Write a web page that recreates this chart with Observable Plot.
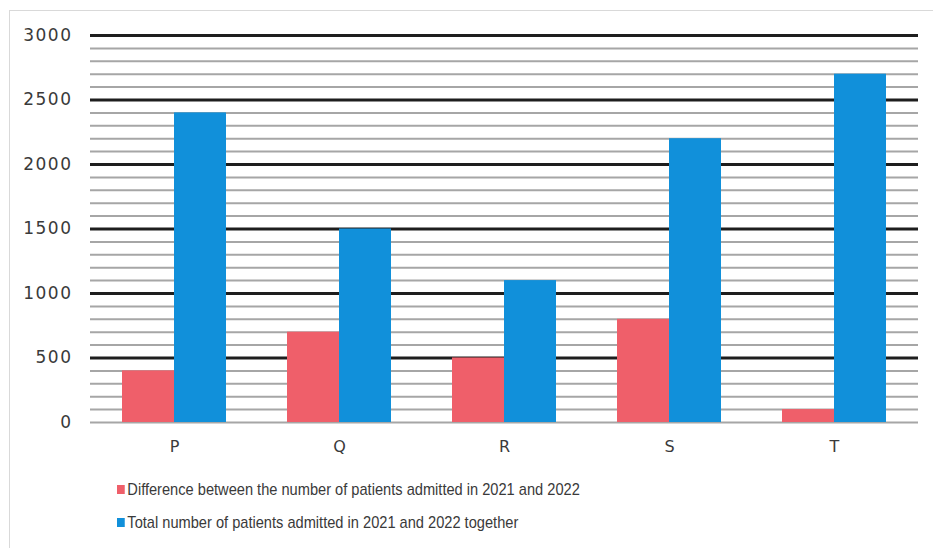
<!DOCTYPE html>
<html>
<head>
<meta charset="utf-8">
<script src="https://cdn.jsdelivr.net/npm/d3@7"></script>
<script src="https://cdn.jsdelivr.net/npm/@observablehq/plot@0.6"></script>
<style>
  body { margin: 0; background: #fff; }
  #wrap { position: relative; width: 933px; height: 548px; overflow: hidden; background: #fff; }
  #border { position: absolute; left: 9px; top: 10px; width: 940px; height: 560px; border: 1px solid #d9d9d9; }
  #chart { position: absolute; left: 0; top: 0; }
  .leg { position: absolute; left: 117px; font-family: "Liberation Sans", sans-serif; font-size: 17px; color: #3a3a3a; white-space: nowrap; transform: scaleX(0.86); transform-origin: left center; }
  .sw { display: inline-block; width: 9px; height: 9px; margin-right: 3px; vertical-align: 1px; }
</style>
</head>
<body>
<div id="wrap">
  <div id="border"></div>
  <div id="chart"></div>
  <div class="leg" id="leg1" style="top:480px"></div>
  <div class="leg" id="leg2" style="top:513px"></div>
</div>
<script>
const categories = ["P", "Q", "R", "S", "T"];
const difference = [400, 700, 500, 800, 100];
const total = [2400, 1500, 1100, 2200, 2700];
const seriesNames = [
  "Difference between the number of patients admitted in 2021 and 2022",
  "Total number of patients admitted in 2021 and 2022 together"
];
const colors = ["#ef5f6a", "#1190da"];
const yTicks = [0, 500, 1000, 1500, 2000, 2500, 3000];
const minorTicks = d3.range(0, 3001, 100).filter(v => v === 0 || v % 500 !== 0);
const majorTicks = yTicks.filter(v => v !== 0);

const diffData = categories.map((c, i) => ({category: c, value: difference[i]}));
const totalData = categories.map((c, i) => ({category: c, value: total[i]}));

const chart = Plot.plot({
  width: 933,
  height: 470,
  marginLeft: 90,
  marginRight: 15,
  marginTop: 35,
  marginBottom: 48,
  style: {fontFamily: "DejaVu Sans, sans-serif", fontSize: "16px", color: "#3a3a3a", background: "transparent"},
  x: {domain: categories, paddingInner: 0.372, paddingOuter: 0.186, label: null, tickSize: 0, tickPadding: 18},
  y: {domain: [0, 3000], ticks: yTicks, tickFormat: d => String(d), label: null, tickSize: 0, tickPadding: 18},
  marks: [
    Plot.ruleY(minorTicks, {stroke: "#a6a6a6", strokeWidth: 2}),
    Plot.ruleY(majorTicks, {stroke: "#1e1e1e", strokeWidth: 3}),
    Plot.barY(diffData, {x: "category", y: "value", fill: colors[0], insetRight: 52}),
    Plot.barY(totalData, {x: "category", y: "value", fill: colors[1], insetLeft: 52})
  ]
});
chart.querySelectorAll("[aria-label='y-axis tick label'] text").forEach(t => {
  t.setAttribute("letter-spacing", "1.5");
  t.setAttribute("font-size", "17px");
});
document.getElementById("chart").appendChild(chart);

[["leg1", 0], ["leg2", 1]].forEach(([id, i]) => {
  const el = document.getElementById(id);
  const sw = document.createElement("span");
  sw.className = "sw";
  sw.style.background = colors[i];
  el.appendChild(sw);
  el.appendChild(document.createTextNode(seriesNames[i]));
});
</script>
</body>
</html>
